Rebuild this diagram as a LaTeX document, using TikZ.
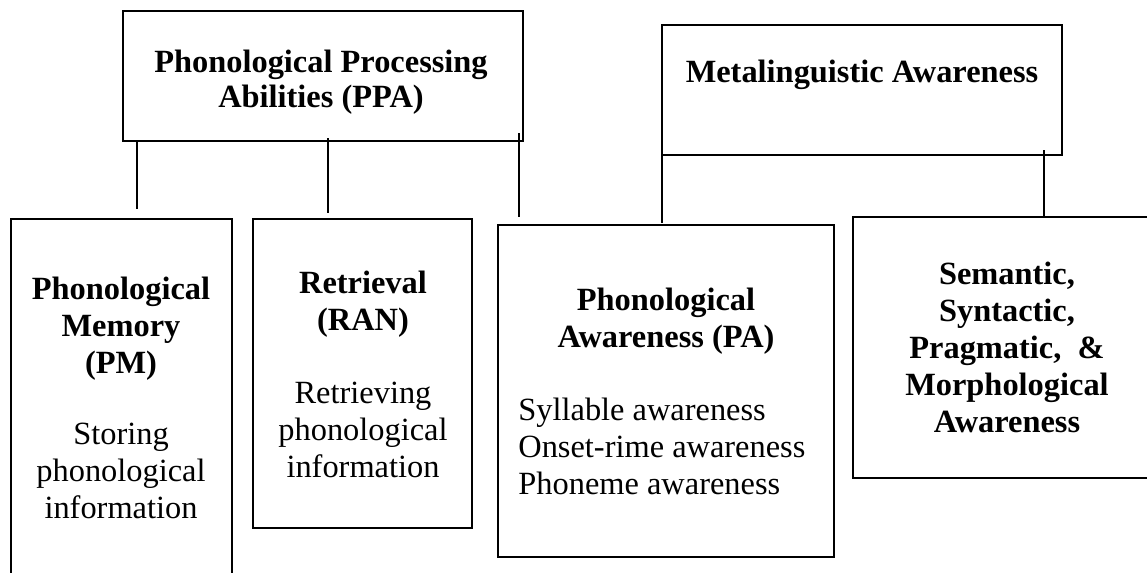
\documentclass[tikz,border=0pt]{standalone}
\usepackage{fontspec}
\setmainfont{Liberation Serif}
\tikzset{
  box/.style={draw=black, line width=1pt, rectangle, inner sep=0pt},
  conn/.style={draw=black, line width=0.9pt},
  ttl/.style={font=\bfseries\fontsize{16.2}{18.4}\selectfont, align=center, anchor=base, inner sep=0pt},
  dsc/.style={font=\fontsize{16.2}{18.4}\selectfont, align=center, anchor=base, inner sep=0pt},
}
\begin{document}
\begin{tikzpicture}[x=0.5pt, y=-0.5pt]
\useasboundingbox (0,0) rectangle (1147,573);
\clip (0,0) rectangle (1147,573);
\fill[white] (0,0) rectangle (1147,573);
% boxes
\node[box, minimum width=200pt, minimum height=65pt] (ppa) at (323,76) {};
\node[box, minimum width=200pt, minimum height=65pt] (meta) at (862,90) {};
\node[box, minimum width=110.5pt, minimum height=215.5pt] (pm) at (121.5,434.5) {};
\node[box, minimum width=109.5pt, minimum height=154.5pt] (ran) at (362.5,373.5) {};
\node[box, minimum width=168pt, minimum height=166pt] (pa) at (666,391) {};
\node[box, minimum width=154pt, minimum height=130.5pt] (sem) at (1007,347.5) {};
% texts (base anchor = baseline of the last line)
\node[ttl, font=\bfseries\fontsize{16.2}{17.5}\selectfont] (ppaT) at (321,107) {Phonological Processing\\Abilities (PPA)};
\node[ttl] (metaT) at (862,83) {Metalinguistic Awareness};
\node[ttl] (pmT) at (121,373) {Phonological\\Memory\\(PM)};
\node[dsc] (pmD) at (121,518) {Storing\\phonological\\information};
\node[ttl] (ranT) at (363,330) {Retrieval\\(RAN)};
\node[dsc] (ranD) at (363,477) {Retrieving\\phonological\\information};
\node[ttl] (paT) at (666,347) {Phonological\\Awareness (PA)};
\node[dsc, align=left, anchor=base west] (paD) at (518,494) {Syllable awareness\\Onset-rime awareness\\Phoneme awareness};
\node[ttl] (semT) at (1007,432) {Semantic,\\Syntactic,\\Pragmatic,\ \ \&\\Morphological\\Awareness};
% connector end points
\path (137,141) coordinate (l1s) (137,209) coordinate (l1e)
      (328,138) coordinate (l2s) (328,213) coordinate (l2e)
      (519,133) coordinate (l3s) (519,217) coordinate (l3e)
      (662,155) coordinate (l4s) (662,223) coordinate (l4e)
      (1044,150) coordinate (l5s) (1044,218) coordinate (l5e);
\draw[conn] (l1s) -- (l1e);
\draw[conn] (l2s) -- (l2e);
\draw[conn] (l3s) -- (l3e);
\draw[conn] (l4s) -- (l4e);
\draw[conn] (l5s) -- (l5e);
\end{tikzpicture}
\end{document}
